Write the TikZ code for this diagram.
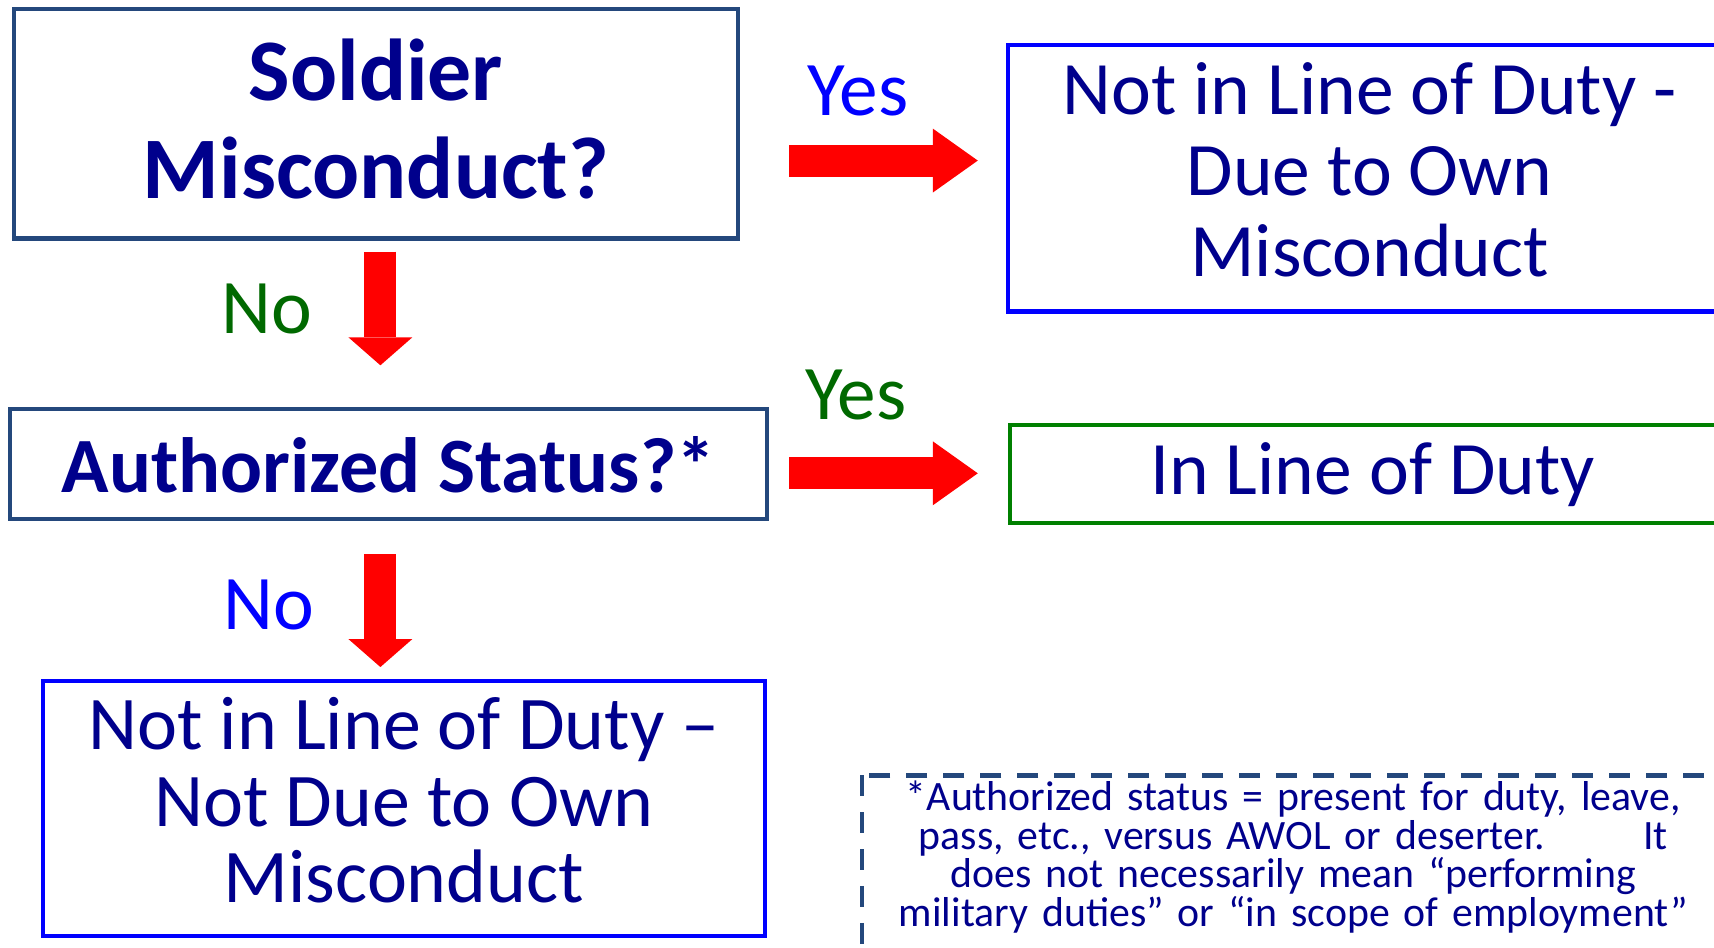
\documentclass[tikz,border=0pt]{standalone}
\usepackage{fontspec}
\setmainfont{Carlito}
\usetikzlibrary{arrows.meta,calc}

\definecolor{navyText}{RGB}{0,0,140}
\definecolor{questionEdge}{RGB}{36,72,124}
\definecolor{answerGreen}{RGB}{0,105,0}
\definecolor{outcomeGreen}{RGB}{0,128,0}

\begin{document}
\begin{tikzpicture}[
		question/.style={draw=questionEdge, line width=1.2pt, align=center, text=navyText, inner sep=0pt},
		outcome/.style={draw=#1, line width=1.2pt, align=center, text=navyText, inner sep=0pt},
		boxText/.style={align=center, text=navyText, inner sep=0pt},
		answer/.style={inner sep=0pt, font=\fontsize{22pt}{24pt}\selectfont},
		blockArrow/.style={red, line width=0.32cm, -{Triangle[length=#1, width=0.64cm, line width=0pt]}},
		blockArrow/.default=0.45cm,
		noteEdge/.style={draw=questionEdge, line width=1.4pt, dash pattern=on 0.21cm off 0.16cm}
	]
		\draw[use as bounding box, transparent] (0,0) rectangle (17.14,-9.47);

		% QUESTIONS
		\node[question, minimum width=7.25cm, minimum height=2.30cm,
			label={[boxText, yshift=0.045cm, font=\bfseries\fontsize{25pt}{28pt}\selectfont]center:{Soldier\\Misconduct?}}] (soldier) at (3.755,-1.23) {};
		\node[question, minimum width=7.58cm, minimum height=1.10cm, font=\bfseries\fontsize{22.3pt}{24pt}\selectfont] (status) at (3.88,-4.64) {Authorized Status?*};

		% OUTCOMES
		\node[outcome=blue, minimum width=7.24cm, minimum height=2.67cm,
			label={[boxText, yshift=0.08cm, font=\fontsize{21.5pt}{23pt}\selectfont]center:{Not in Line of Duty -\\Due to Own\\Misconduct}}] (ownMisconduct) at (13.70,-1.775) {};
		\node[outcome=outcomeGreen, minimum width=7.26cm, minimum height=0.98cm, font=\fontsize{21.5pt}{23pt}\selectfont] (inLine) at (13.73,-4.74) {In Line of Duty};
		\node[outcome=blue, minimum width=7.23cm, minimum height=2.55cm,
			label={[boxText, yshift=0.08cm, font=\fontsize{21.6pt}{21.8pt}\selectfont]center:{Not in Line of Duty –\\Not Due to Own\\Misconduct}}] (notOwn) at (4.035,-8.085) {};

		% ANSWERS
		\node[answer, text=blue] (yesOwn) at (8.58,-0.90) {Yes};
		\node[answer, text=answerGreen] (noMisconduct) at (2.66,-3.09) {No};
		\node[answer, text=answerGreen] (yesStatus) at (8.56,-3.95) {Yes};
		\node[answer, text=blue] (noStatus) at (2.68,-6.05) {No};

		% ARROWS
		\coordinate (a1s) at ($(soldier.east)+(0.49,-0.37)$);
		\coordinate (a1e) at ($(ownMisconduct.west |- a1s)+(-0.28,0)$);
		\draw[blockArrow] (a1s) -- (a1e);

		\coordinate (a2s) at ($(soldier.south)+(0.045,-0.11)$);
		\coordinate (a2e) at ($(a2s |- status.north)+(0,0.42)$);
		\draw[blockArrow=0.28cm] (a2s) -- (a2e);

		\coordinate (a3s) at ($(status.east)+(0.20,-0.09)$);
		\coordinate (a3e) at ($(inLine.west |- a3s)+(-0.30,0)$);
		\draw[blockArrow] (a3s) -- (a3e);

		\coordinate (a4s) at ($(status.south)+(-0.08,-0.33)$);
		\coordinate (a4e) at ($(a4s |- notOwn.north)+(0,0.12)$);
		\draw[blockArrow=0.28cm] (a4s) -- (a4e);

		% FOOTNOTE
		\node[anchor=north west, text width=8.4cm, inner xsep=0.11cm, inner ysep=0.05cm, align=center, text=navyText, font=\fontsize{11.9pt}{11pt}\selectfont] (footnote) at (8.62,-7.75) {*Authorized status = present for duty, leave,\\pass, etc., versus AWOL or deserter.\hspace{28pt}It\\does not necessarily mean “performing\\military duties” or “in scope of employment”};
		\draw[noteEdge] (footnote.north west) rectangle ([yshift=-0.6cm]footnote.south east);

\end{tikzpicture}
\end{document}
